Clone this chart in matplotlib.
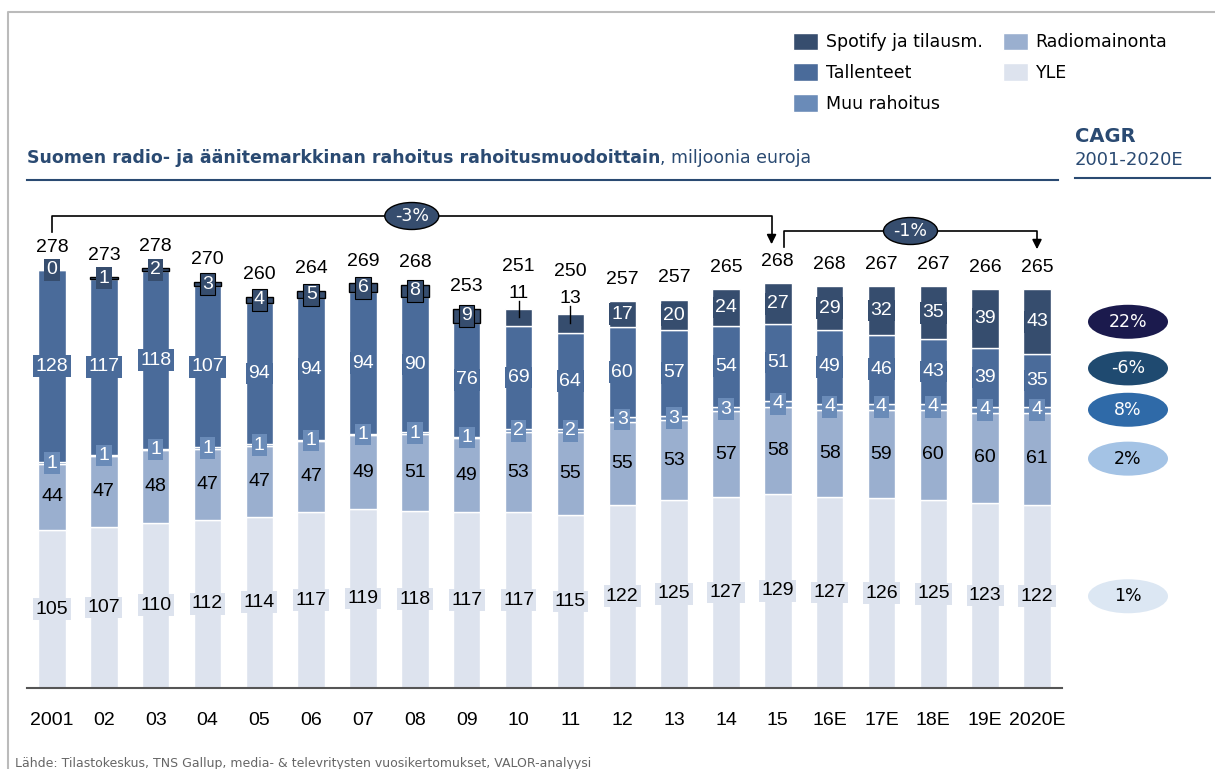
import numpy as np
import matplotlib.pyplot as plt
from matplotlib.patches import Ellipse, Patch
from matplotlib.lines import Line2D

years = ['2001', '02', '03', '04', '05', '06', '07', '08', '09', '10',
         '11', '12', '13', '14', '15', '16E', '17E', '18E', '19E', '2020E']
yle = [105, 107, 110, 112, 114, 117, 119, 118, 117, 117, 115, 122, 125, 127, 129, 127, 126, 125, 123, 122]
radio = [44, 47, 48, 47, 47, 47, 49, 51, 49, 53, 55, 55, 53, 57, 58, 58, 59, 60, 60, 61]
muu = [1, 1, 1, 1, 1, 1, 1, 1, 1, 2, 2, 3, 3, 3, 4, 4, 4, 4, 4, 4]
tall = [128, 117, 118, 107, 94, 94, 94, 90, 76, 69, 64, 60, 57, 54, 51, 49, 46, 43, 39, 35]
spot = [0, 1, 2, 3, 4, 5, 6, 8, 9, 11, 13, 17, 20, 24, 27, 29, 32, 35, 39, 43]
totals = [278, 273, 278, 270, 260, 264, 269, 268, 253, 251, 250, 257, 257, 265, 268, 268, 267, 267, 266, 265]

names = ['YLE', 'Radiomainonta', 'Muu rahoitus', 'Tallenteet', 'Spotify ja tilausm.']
colors = ['#dde3ee', '#9aafcf', '#6a8bb8', '#4a6b9a', '#364d6e']
cagr = ['1%', '2%', '8%', '-6%', '22%']
cagr_fc = ['#dce7f3', '#a4c3e5', '#2f6aa8', '#1f4a70', '#1b1a4d']
cagr_tc = ['black', 'black', 'white', 'white', 'white']
period_cagr = ['-3%', '-1%']

NUM = ['Liberation Sans', 'DejaVu Sans']
TXT = ['DejaVu Sans']
navy = '#2a4a72'
nfs = 14

W, H = 1215, 769
fig = plt.figure(figsize=(W / 100, H / 100), dpi=100)
ppu = 1.504          # pixels per million euro
step = 51.84         # pixels between bars


def fx(px):
    return px / W


def fy(py):
    return 1 - py / H


ax = fig.add_axes([fx(27), fy(688), fx(1062) - fx(27), fy(190) - fy(688)])
ax.set_xlim(-(52 - 27) / step, 19 + (1062 - 1037) / step)
ax.set_ylim(0, (688 - 190) / ppu)

x = np.arange(len(years))
series = [yle, radio, muu, tall, spot]
bottom = np.zeros(len(years))
handles = []
centers = []
for k, vals in enumerate(series):
    vals = np.array(vals, dtype=float)
    ec = ['white'] * len(vals)
    if k == 4:
        ec = ['black' if 0 < v < 10 else 'white' for v in vals]
    ax.bar(x, vals, 0.53, bottom=bottom, color=colors[k], edgecolor=ec, linewidth=1, zorder=2)
    handles.append(Patch(facecolor=colors[k], edgecolor='white'))
    mid = bottom + vals / 2
    centers.append(mid)
    for i, v in enumerate(vals):
        s = str(int(v))
        if k == 1:
            ax.text(i, mid[i], s, ha='center', va='center', fontsize=nfs, family=NUM, color='black', zorder=4)
            continue
        tc = 'black' if k == 0 else 'white'
        bb = dict(boxstyle='square,pad=0.12', fc=colors[k], ec='none')
        y = mid[i]
        if k == 4:
            if 10 <= v <= 13:
                # small value: label sits above the bar with a tick line
                y = bottom[i] + v + 15 / ppu
                ax.plot([i, i], [bottom[i] + v / 2, y - 7 / ppu], color='black', lw=1, zorder=3)
                ax.text(i, y, s, ha='center', va='center', fontsize=nfs, family=NUM, color='black', zorder=4)
                continue
            if 3 <= v < 10:
                bb['ec'] = 'black'
                bb['lw'] = 0.8
        ax.text(i, y, s, ha='center', va='center', fontsize=nfs, family=NUM, color=tc, bbox=bb, zorder=4)
    bottom = bottom + vals

# totals above bars
for i, t in enumerate(totals):
    off = 42 if 10 <= spot[i] <= 13 else 22
    ax.text(i, bottom[i] + off / ppu, str(t), ha='center', va='center', fontsize=nfs, family=NUM, color='black')

# CAGR ellipses on the right
cx = 19 + (1128 - 1037) / step
for k in range(5):
    cy = centers[k][-1] + (8 if k == 3 else 0)
    ax.add_patch(Ellipse((cx, cy), 80 / step, 34 / ppu, fc=cagr_fc[k], ec='none', clip_on=False, zorder=3))
    ax.text(cx, cy, cagr[k], ha='center', va='center', fontsize=12.5, family=TXT, color=cagr_tc[k], clip_on=False)


# period brackets
def bracket(x0, x1, yh, y0, y1, lab):
    ax.plot([x0, x0, x1, x1], [y0, yh, yh, y1 + 8], color='black', lw=1.2, clip_on=False, zorder=3)
    ax.annotate('', xy=(x1, y1), xytext=(x1, y1 + 9), arrowprops=dict(arrowstyle='-|>', color='black', lw=1.2, mutation_scale=14))
    xm = (x0 + x1) / 2
    ax.add_patch(Ellipse((xm, yh), 54 / step, 27 / ppu, fc='#364d6e', ec='black', lw=1, clip_on=False, zorder=4))
    ax.text(xm, yh, lab, ha='center', va='center', fontsize=12.5, family=TXT, color='white', zorder=5)


bracket(0, 14 - 0.12, (688 - 216) / ppu, (688 - 232) / ppu, (688 - 247) / ppu, period_cagr[0])
bracket(14 + 0.12, 19, (688 - 231) / ppu, (688 - 247) / ppu, (688 - 252) / ppu, period_cagr[1])

ax.set_xticks(x)
ax.set_xticklabels(years, fontsize=nfs, family=NUM)
ax.tick_params(axis='x', length=0, pad=17)
ax.set_yticks([])
for sp in ['left', 'right', 'top']:
    ax.spines[sp].set_visible(False)
ax.spines['bottom'].set_color('#555555')
ax.spines['bottom'].set_linewidth(1.5)

# legend
fig.legend(handles[::-1][:3] + [handles[1], handles[0]],
           names[::-1][:3] + [names[1], names[0]],
           ncol=2, loc='upper left', bbox_to_anchor=(fx(784), fy(24)), frameon=False,
           prop={'family': TXT, 'size': 12.5}, handlelength=1.45, handleheight=1.2,
           labelspacing=0.68, columnspacing=1.15, handletextpad=0.45, borderpad=0)

# title
t1 = fig.text(fx(27), fy(158), 'Suomen radio- ja äänitemarkkinan rahoitus rahoitusmuodoittain',
              fontsize=12.5, family=TXT, weight='bold', color=navy, va='center')
ax.annotate(', miljoonia euroja', xy=(1, 0.5), xycoords=t1, va='center', ha='left',
            fontsize=12.5, family=TXT, color=navy, annotation_clip=False)
fig.add_artist(Line2D([fx(27), fx(1058)], [fy(180), fy(180)], color=navy, lw=1.5))

fig.text(fx(1075), fy(137), 'CAGR', fontsize=14, family=TXT, weight='bold', color=navy, va='center')
fig.text(fx(1075), fy(160), '2001-2020E', fontsize=13, family=TXT, color=navy, va='center')
fig.add_artist(Line2D([fx(1075), fx(1210)], [fy(178), fy(178)], color=navy, lw=1.5))

fig.text(fx(15), fy(764), 'Lähde: Tilastokeskus, TNS Gallup, media- & televritysten vuosikertomukset, VALOR-analyysi',
         fontsize=9, family=TXT, color='#666666', va='center')

# frame
fig.add_artist(Line2D([fx(8), fx(8), fx(1215)], [0, fy(12), fy(12)], color='#bbbbbb', lw=1.5))

fig.savefig('out.png', dpi=100)
